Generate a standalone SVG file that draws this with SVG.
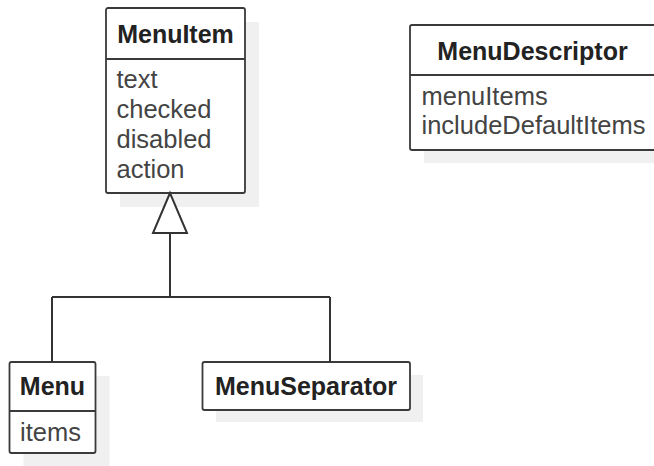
<svg xmlns="http://www.w3.org/2000/svg" width="654" height="466" viewBox="0 0 654 466">
<style>
.shadow{fill:#f0f0f0;stroke:none}
.box{fill:#fff;stroke:#3a3a3a;stroke-width:1.8}
.div{stroke:#3a3a3a;stroke-width:1.8;fill:none}
.title{font-family:"Liberation Sans",Arial,sans-serif;font-size:25px;font-weight:bold;fill:#222;text-anchor:middle}
.attr{font-family:"Liberation Sans",Arial,sans-serif;font-size:25.5px;fill:#444}
.conn{stroke:#333;stroke-width:2;fill:none}
</style>
<rect width="654" height="466" fill="#fff"/>
<g id="MenuItem">
<rect class="shadow" x="120" y="22" width="139" height="185"/>
<rect class="box" x="106" y="8" width="139" height="185" rx="2"/>
<line class="div" x1="106" y1="59" x2="245" y2="59"/>
<text class="title" x="175.5" y="43">MenuItem</text>
<text class="attr" x="116.5" y="88">text</text>
<text class="attr" x="116.5" y="118">checked</text>
<text class="attr" x="116.5" y="148">disabled</text>
<text class="attr" x="116.5" y="178">action</text>
</g>
<g id="MenuDescriptor">
<rect class="shadow" x="424" y="39" width="250" height="124"/>
<rect class="box" x="410" y="25" width="250" height="125" rx="2"/>
<line class="div" x1="410" y1="75" x2="660" y2="75"/>
<text class="title" x="532.5" y="60">MenuDescriptor</text>
<text class="attr" x="421.5" y="105">menuItems</text>
<text class="attr" x="421.5" y="134">includeDefaultItems</text>
</g>
<g id="Menu">
<rect class="shadow" x="23.5" y="376" width="86" height="90"/>
<rect class="box" x="9.5" y="362" width="86" height="91" rx="2"/>
<line class="div" x1="9.5" y1="411" x2="95.5" y2="411"/>
<text class="title" x="52.5" y="395">Menu</text>
<text class="attr" x="20" y="441">items</text>
</g>
<g id="MenuSeparator">
<rect class="shadow" x="216" y="375" width="207" height="47"/>
<rect class="box" x="202.5" y="362" width="207.5" height="48" rx="2"/>
<text class="title" x="306" y="395">MenuSeparator</text>
</g>
<g id="connectors">
<path class="conn" d="M170,233 L170,297 M52,297 L330,297 M52,297 L52,362 M330,297 L330,362"/>
<polygon points="170,193 153,233 187,233" fill="#fff" stroke="#333" stroke-width="2"/>
</g>
</svg>
